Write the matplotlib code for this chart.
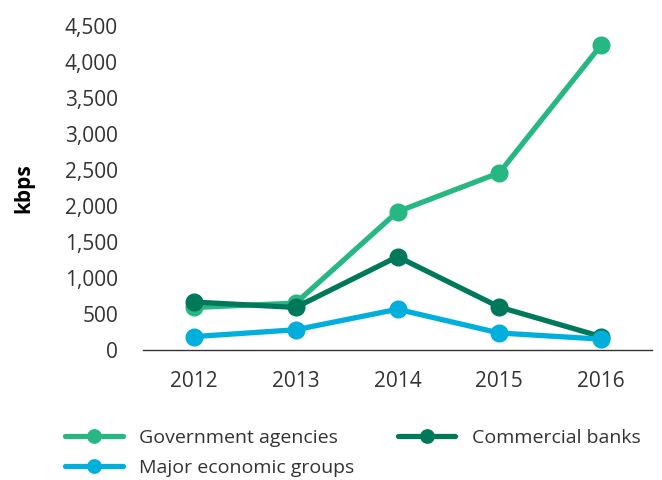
import matplotlib
matplotlib.use('Agg')
import matplotlib.pyplot as plt
import matplotlib.ticker as mticker

plt.rcParams['font.family'] = ['Open Sans', 'DejaVu Sans']

years = [2012, 2013, 2014, 2015, 2016]
government = [590, 650, 1920, 2460, 4235]
commercial = [665, 590, 1295, 595, 185]
major_groups = [185, 280, 565, 235, 150]

SERIES = [
    ('Government agencies', government, '#27b783'),
    ('Commercial banks', commercial, '#00795a'),
    ('Major economic groups', major_groups, '#00afdb'),
]
TEXT = '#333333'

fig = plt.figure(figsize=(6.62, 4.8), dpi=100)
ax = fig.add_axes([0.216, 0.271, 0.769, 0.675])

lines = []
for label, vals, color in SERIES:
    ln, = ax.plot(years, vals, '-o', color=color, linewidth=3.8,
                  markersize=12, label=label, clip_on=False,
                  solid_capstyle='round')
    lines.append(ln)

ax.set_xlim(2011.5, 2016.5)
ax.set_ylim(0, 4500)
ax.set_xticks(years)
ax.set_yticks(range(0, 4501, 500))
ax.yaxis.set_major_formatter(mticker.FuncFormatter(lambda v, p: f'{int(v):,}'))
ax.tick_params(length=0, labelsize=15, colors=TEXT)
ax.tick_params(axis='x', pad=15)
ax.tick_params(axis='y', pad=18)
for s in ('top', 'right', 'left'):
    ax.spines[s].set_visible(False)
ax.spines['bottom'].set_color('#333333')
ax.spines['bottom'].set_linewidth(1.0)

ax.set_ylabel('kbps', fontsize=15, fontweight='bold', color='black', labelpad=22)

# column-wise fill: Gov + Major in col 1, Commercial in col 2
order = [lines[0], lines[2], lines[1]]
leg = fig.legend(handles=order, loc='lower left', bbox_to_anchor=(0.072, -0.03),
                 ncol=2, frameon=False, fontsize=14, handlelength=2.95,
                 columnspacing=2.25, handletextpad=0.85, labelspacing=0.62,
                 markerscale=0.8)
for t in leg.get_texts():
    t.set_color(TEXT)

fig.savefig('out.png', dpi=100)
